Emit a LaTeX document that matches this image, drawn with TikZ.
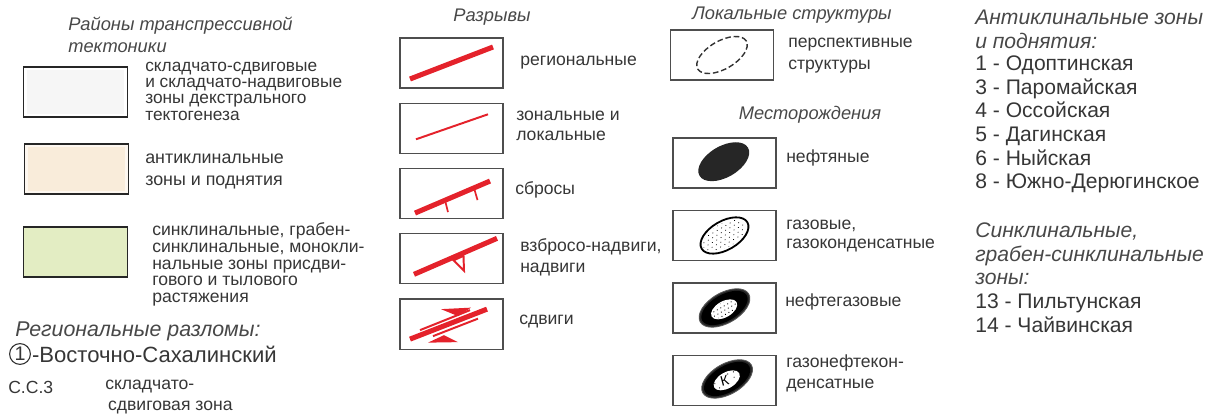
\documentclass[tikz,border=0pt]{standalone}
\usepackage{fontspec}
\setmainfont{Liberation Sans}
\usetikzlibrary{positioning,chains,scopes}
\definecolor{txt}{HTML}{363636}
\definecolor{hdrgray}{HTML}{484848}
\definecolor{faultred}{HTML}{E4222B}
\definecolor{frame}{HTML}{4E4E4E}
\definecolor{zonegray}{HTML}{F6F6F6}
\definecolor{zonesand}{HTML}{F9ECDA}
\definecolor{zonegreen}{HTML}{E3EDC3}
\tikzset{
	every node/.style={text=txt, inner sep=0pt},
	zonebox/.style={draw=black!85, line width=1.3pt, minimum width=2.6cm, minimum height=1.25cm},
	legbox/.style={draw=frame, line width=0.9pt, minimum width=2.575cm, minimum height=1.25cm},
	lbl/.style={anchor=west, align=left, font=\fontsize{12.5}{14.5}\selectfont},
	hdr/.style={text=hdrgray, font=\fontsize{13}{15.6}\selectfont\itshape},
	fault/.style={draw=faultred, line width=3.6pt},
	thinfault/.style={draw=faultred, line width=1.4pt},
	oilring/.style={fill=black!85, draw=black!65, line width=0.6pt},
}

\begin{document}
\begin{tikzpicture}[x=0.025cm, y=-0.025cm]
        \useasboundingbox (0,0) rectangle (1215,416);

        % rajony transpressii
        \node[hdr, anchor=west, align=left] (zoneshdr) at (68,35) {Районы транспрессивной\\тектоники};
        \node[zonebox, fill=white] (zoneA) at (75.5,92) {};
        \fill[zonegray] ([shift={(4,-4)}]zoneA.south west) rectangle ([shift={(-4,4)}]zoneA.north east);
        \node[lbl, font=\fontsize{12.3}{11.6}\selectfont] (zoneAtext) at (145,91) {складчато-сдвиговые\\и складчато-надвиговые\\зоны декстрального\\тектогенеза};

        \node[zonebox, fill=white!60!zonesand] (zoneB) at (76.5,169) {};
        \fill[zonesand] ([shift={(4,-4)}]zoneB.south west) rectangle ([shift={(-4,4)}]zoneB.north east);
        \node[lbl, font=\fontsize{12.7}{15.6}\selectfont] (zoneBtext) at (145,171) {антиклинальные\\зоны и поднятия};

        \node[zonebox, fill=zonegreen] (zoneC) at (75.5,252) {};
        \node[lbl, font=\fontsize{12.5}{11.9}\selectfont] (zoneCtext) at (152,264.5) {синклинальные, грабен-\\синклинальные, монокли-\\нальные зоны присдви-\\гового и тылового\\растяжения};

        \node[hdr, anchor=west, font=\fontsize{15.2}{18}\selectfont\itshape] (razlhdr) at (15,331) {Региональные разломы:};
        \node[circle, draw=txt, line width=0.8pt, minimum size=0.52cm, font=\fontsize{14}{14}\selectfont] (fnum) at (20,354) {1};
        \node[anchor=west, font=\fontsize{15.7}{18}\selectfont, right=0.2mm of fnum] (fname) {-Восточно-Сахалинский};
        \node[anchor=west, font=\fontsize{12.5}{13}\selectfont] (sscode) at (8,387) {С.С.3};
        \node[anchor=north west, align=left, font=\fontsize{12.5}{15}\selectfont] (ssname) at (105,380) {складчато-\\\hspace*{2pt}сдвиговая зона};

        % razryvy
        \node[hdr] (faultshdr) at (492,17) {Разрывы};
        { [start chain=faults going below, node distance=0.35cm]
        \node[legbox] [on chain] (fregional) at (451.5,63) {};
        \node[legbox] [on chain] (fzonal) {};
        \node[legbox] [on chain] (fnormal) {};
        \node[legbox] [on chain] (fthrust) {};
        \node[legbox] [on chain] (fshear) {};
        }
        \draw[fault, shift={(fregional)}] (-41.5,16) -- (41.5,-16);
        \draw[thinfault, shift={(fzonal)}] (-35.5,11) -- (36.5,-14);
        \draw[fault, shift={(fnormal)}] (-36.5,19.5) -- (38.5,-12.5);
        \draw[faultred, line width=1.2pt, shift={(fnormal)}] (-6.5,6.7) -- (-3.5,18.5) (22.5,-5.7) -- (26,6.5);
        \draw[faultred, line width=1.4pt, fill=white, shift={(fthrust)}] (2,1.5) -- (12,-3) -- (12.5,12) -- cycle;
        \draw[fault, shift={(fthrust)}] (-37.5,15.5) -- (45.5,-20.5);
        \draw[fault, shift={(fshear)}] (-41.5,15) -- (35.5,-15);
        \draw[thinfault, shift={(fshear)}] (-31.5,6) -- (18.5,-14) (-18.5,12) -- (26.5,-5.5);
        \fill[faultred, shift={(fshear)}] (-10.5,-15) -- (19.5,-16.5) -- (6.5,-8) -- cycle;
        \fill[faultred, shift={(fshear)}] (-23.5,18.5) -- (6.5,18) -- (-7.5,11) -- cycle;

        \node[lbl] (fregionaltext) at (520,63) {региональные};
        \node[lbl, font=\fontsize{12.5}{14.2}\selectfont] (fzonaltext) at (516,126) {зональные и\\локальные};
        \node[lbl] (fnormaltext) at (515,190) {сбросы};
        \node[lbl, font=\fontsize{12.5}{15}\selectfont] (fthrusttext) at (520,257.5) {взбросо-надвиги,\\надвиги};
        \node[lbl] (fsheartext) at (519,322) {сдвиги};

        % lokalnye struktury i mestorozhdenija
        \node[hdr] (structhdr) at (792,15) {Локальные структуры};
        \node[legbox] (sperspect) at (722,55) {};
        \draw[black!80, line width=1pt, dash pattern=on 4pt off 2pt, shift={(sperspect)}, rotate=30] (0,0) ellipse [x radius=0.7cm, y radius=0.35cm];
        \node[lbl, font=\fontsize{12.5}{15.6}\selectfont] (sperspecttext) at (788,56) {перспективные\\структуры};

        \node[hdr] (fieldshdr) at (810,115) {Месторождения};
        { [start chain=fields going below, node distance=0.53cm]
        \node[legbox] [on chain] (foil) at (724.5,163) {};
        \node[legbox] [on chain] (fgas) {};
        \node[legbox] [on chain] (foilgas) {};
        \node[legbox] [on chain] (fcond) {};
        }
        \fill[black!85, shift={(foil)}, rotate=30] (0,-1.5) ellipse [x radius=0.7cm, y radius=0.39cm];

        \begin{scope}[shift={(fgas)}, rotate=30]
            \draw[black, line width=1.3pt, fill=white] (0,0) ellipse [x radius=0.66cm, y radius=0.36cm];
            \clip (0,0) ellipse [x radius=0.6cm, y radius=0.3cm];
            \foreach \i in {-24,-19,...,26}
                \foreach \j in {-12,-8,...,13}
                    \fill[black] ({\i+\j*0.6},\j) circle (0.4pt);
        \end{scope}

        \begin{scope}[shift={(foilgas)}, rotate=30]
            \filldraw[oilring] (0,0) ellipse [x radius=0.7cm, y radius=0.38cm];
            \fill[black] (0,0) ellipse [x radius=0.64cm, y radius=0.33cm];
            \fill[white] (-1,1) ellipse [x radius=0.36cm, y radius=0.2cm];
            \clip (-1,1) ellipse [x radius=0.33cm, y radius=0.17cm];
            \foreach \i in {-14,-10,...,14}
                \foreach \j in {-6,-2,...,8}
                    \fill[black] ({\i+\j*0.6},\j) circle (0.45pt);
        \end{scope}

        \begin{scope}[shift={(fcond)}, rotate=30]
            \filldraw[oilring] (3,0) ellipse [x radius=0.7cm, y radius=0.38cm];
            \fill[black] (3,0) ellipse [x radius=0.64cm, y radius=0.33cm];
            \fill[white] (2,1) ellipse [x radius=0.36cm, y radius=0.2cm];
            \foreach \i/\j in {6/-4,10/2,12/-3,-8/4,-10/-2}
                \fill[black] (\i,\j) circle (0.45pt);
        \end{scope}
        \node[text=black, font=\fontsize{10}{10}\selectfont, rotate=15] (condK) at ([shift={(0,0)}]fcond) {К};

        \node[lbl] (foiltext) at (786,158) {нефтяные};
        \node[lbl, font=\fontsize{12.5}{13.5}\selectfont] (fgastext) at (786,236.5) {газовые,\\газоконденсатные};
        \node[lbl] (foilgastext) at (785,302) {нефтегазовые};
        \node[lbl, font=\fontsize{12.5}{14.9}\selectfont] (fcondtext) at (786,373.5) {газонефтекон-\\денсатные};

        % spisok zon
        \node[hdr, anchor=west, align=left, font=\fontsize{15}{17}\selectfont\itshape] (anticlhdr) at (975,29) {Антиклинальные зоны\\и поднятия:};
        \node[lbl, font=\fontsize{15}{16.8}\selectfont] (anticllist) at (975,124.5) {1 - Одоптинская\\3 - Паромайская\\4 - Оссойская\\5 - Дагинская\\6 - Ныйская\\8 - Южно-Дерюгинское};
        \node[hdr, anchor=west, align=left, font=\fontsize{15}{16.8}\selectfont\itshape] (synclhdr) at (975,254) {Синклинальные,\\грабен-синклинальные\\зоны:};
        \node[lbl, font=\fontsize{15}{16.8}\selectfont] (syncllist) at (975,313.5) {13 - Пильтунская\\14 - Чайвинская};
    \end{tikzpicture}
\end{document}
